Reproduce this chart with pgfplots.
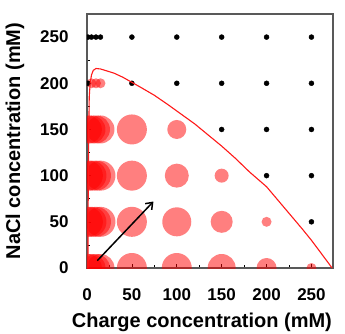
\documentclass[border=0pt]{standalone}
\usepackage{pgfplots}
\pgfplotsset{compat=1.18}
\usepackage{pgfplotstable}
\usepackage{fontspec}
\setmainfont{Liberation Sans}
\usetikzlibrary{arrows.meta}

\pgfplotstableread{
x y r
1 0 14
5 0 14
10 0 14
15 0 14
50 0 15
100 0 15
150 0 14
200 0 10
250 0 5
1 50 15
5 50 15
10 50 15
15 50 15
50 50 15
100 50 14.5
150 50 11
200 50 5
1 100 15
5 100 15
10 100 15
15 100 15
50 100 15
100 100 12
150 100 7
1 150 14
5 150 14
10 150 14
15 150 14
50 150 15
100 150 9.5
5 200 5
10 200 5
15 200 5
}\redpts

\pgfplotstableread{
x y
1 250
5 250
10 250
15 250
50 250
100 250
150 250
200 250
250 250
1 200
50 200
100 200
150 200
200 200
250 200
150 150
200 150
250 150
200 100
250 100
250 50
}\blackpts

\begin{document}
\begin{tikzpicture}
\path[use as bounding box] (-87pt,-65pt) rectangle (258pt,268pt);
\begin{axis}[
 scale only axis, width=246pt, height=254pt,
 at={(0,0)}, anchor=south west,
 xmin=0, xmax=274, ymin=0, ymax=275,
 xtick={0,50,...,250}, ytick={0,50,...,250},
 minor xtick={25,75,...,225}, minor ytick={25,75,...,225},
 tick align=inside, xtick pos=bottom, ytick pos=left,
 major tick length=4pt, minor tick length=3pt,
 tick style={black, line width=0.6pt},
 axis line style={draw=gray!70!black, line width=1.2pt},
 tick label style={font=\fontsize{17}{19}\selectfont\bfseries},
 /pgf/number format/assume math mode=true,
 xticklabel style={yshift=-17pt},
 yticklabel style={xshift=-15pt},
 xlabel={Charge concentration (mM)}, ylabel={NaCl concentration (mM)},
 label style={font=\fontsize{20}{24}\selectfont\bfseries},
 xlabel style={at={(axis description cs:0.467,-0.2126)}, anchor=center},
 ylabel style={at={(axis description cs:-0.293,0.5)}, anchor=center},
 clip marker paths=true,
]
\addplot[scatter, only marks, mark=*, point meta=explicit,
  mark options={draw opacity=0, fill=red, fill opacity=0.5},
  visualization depends on={\thisrow{r}\as\rad},
  scatter/use mapped color={draw opacity=0, fill=red, fill opacity=0.5},
  scatter/@pre marker code/.append style={/tikz/mark size=\rad}]
  table[x=x, y=y, meta=r]{\redpts};
\addplot[only marks, mark=*, mark size=2.5pt, black] table[x=x,y=y]{\blackpts};
\addplot[red!90!white, line width=1.1pt] coordinates {
(1,0) (1.2,50) (1.5,100) (2,150) (2.5,185) (3.5,200) (5,209) (7,214) (10,216)
(15,215.5) (20,214) (30,211) (40,206.5) (50,201) (60,195.5) (75,187) (90,177)
(100,170) (120,156) (140,140) (150,132) (165,119) (181,104) (200,88) (220,65)
(240,42) (250,30) (260,17) (273,0)};
\addplot[black, line width=1.5pt, -{Straight Barb[length=6pt,width=9pt]}] coordinates {(11.5,8) (74,72)};
\end{axis}
\end{tikzpicture}
\end{document}
